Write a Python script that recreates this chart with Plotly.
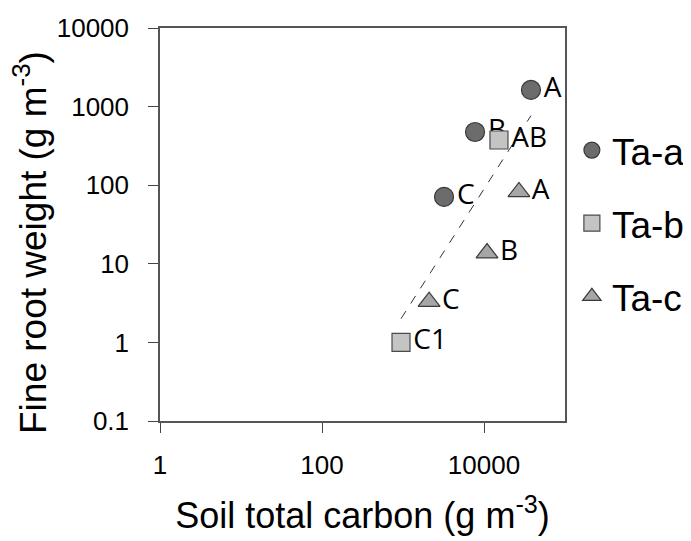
import numpy as np
import plotly.graph_objects as go

# Data
ta_a_x = [38000, 7750, 3210]
ta_a_y = [1630, 475, 71]
ta_a_lbl = ["A", "B", "C"]

ta_b_x = [15300, 945]
ta_b_y = [376, 1.0]
ta_b_lbl = ["AB", "C1"]

ta_c_x = [27000, 10900, 2100]
ta_c_y = [82, 13.7, 3.3]
ta_c_lbl = ["A", "B", "C"]

x_ticks = [1, 100, 10000]
x_tick_text = ["1", "100", "10000"]
y_ticks = [0.1, 1, 10, 100, 1000, 10000]
y_tick_text = ["0.1", "1", "10", "100", "1000", "10000"]

x_title = "Soil total carbon (g m<sup>-3</sup>)"
y_title = "Fine root weight (g m<sup>-3</sup>)"

# Power trendline over all points (fit in log-log space)
all_x = np.array(ta_a_x + ta_b_x + ta_c_x, dtype=float)
all_y = np.array(ta_a_y + ta_b_y + ta_c_y, dtype=float)
slope, intercept = np.polyfit(np.log10(all_x), np.log10(all_y), 1)
trend_x = np.array([all_x.min(), all_x.max()])
trend_y = 10 ** (intercept + slope * np.log10(trend_x))

label_font = dict(family="Open Sans, Lato, sans-serif", size=28, color="black")

fig = go.Figure()

fig.add_trace(go.Scatter(
    x=trend_x, y=trend_y, mode="lines",
    line=dict(color="#333333", width=1, dash="dash"),
    showlegend=False, hoverinfo="skip"))

fig.add_trace(go.Scatter(
    x=ta_a_x, y=ta_a_y, mode="markers+text", name="Ta-a",
    text=ta_a_lbl, textposition="middle right", textfont=label_font,
    marker=dict(symbol="circle", size=19, color="#6c6c6c",
                line=dict(color="#3a3a3a", width=1.2)),
    legendgroup="a"))

fig.add_trace(go.Scatter(
    x=ta_b_x, y=ta_b_y, mode="markers+text", name="Ta-b",
    text=ta_b_lbl, textposition="middle right", textfont=label_font,
    marker=dict(symbol="square", size=18, color="#c4c4c4",
                line=dict(color="#4a4a4a", width=1.2)),
    legendgroup="b"))

fig.add_trace(go.Scatter(
    x=ta_c_x, y=ta_c_y, mode="markers+text", name="Ta-c",
    text=ta_c_lbl, textposition="middle right", textfont=label_font,
    marker=dict(symbol="triangle-up", size=19, color="#a6a6a6",
                line=dict(color="#3a3a3a", width=1.2)),
    legendgroup="c"))

axis_font = dict(family="Liberation Sans, Arial, sans-serif", size=26, color="black")

# Page is offset 8px by the browser's body margin, so the figure is sized 683x533
fig.update_layout(
    width=683, height=533,
    margin=dict(l=152, r=126, t=20, b=120, autoexpand=False),
    paper_bgcolor="white", plot_bgcolor="white",
    font=dict(family="Liberation Sans, Arial, sans-serif", color="black"),
    legend=dict(x=1.017, y=0.767, xanchor="left", yanchor="top",
                font=dict(family="Liberation Sans, Arial, sans-serif", size=37),
                tracegroupgap=22, itemwidth=30, bgcolor="rgba(0,0,0,0)"),
    xaxis=dict(
        type="log", range=[0, 5], automargin=False,
        tickvals=x_ticks, ticktext=x_tick_text,
        tickfont=axis_font, ticks="outside", ticklen=10, tickcolor="#444",
        ticklabelstandoff=10,
        showline=True, linecolor="#555", linewidth=1.5, mirror=True,
        showgrid=False, zeroline=False,
        title=dict(text=x_title,
                   font=dict(family="Liberation Sans, Arial, sans-serif", size=36),
                   standoff=24),
    ),
    yaxis=dict(
        type="log", range=[-1, 4], automargin=False,
        tickvals=y_ticks, ticktext=y_tick_text,
        tickfont=axis_font, ticks="outside", ticklen=10, tickcolor="#444",
        ticklabelstandoff=14,
        showline=True, linecolor="#555", linewidth=1.5, mirror=True,
        showgrid=False, zeroline=False,
    ),
    annotations=[dict(
        text=y_title, textangle=-90, showarrow=False,
        xref="paper", yref="paper",
        x=(23 - 152) / 405, y=1 - (235 - 20) / 393,
        xanchor="center", yanchor="middle",
        font=dict(family="Liberation Sans, Arial, sans-serif", size=37, color="black"),
    )],
)

fig.write_html("out.html")
